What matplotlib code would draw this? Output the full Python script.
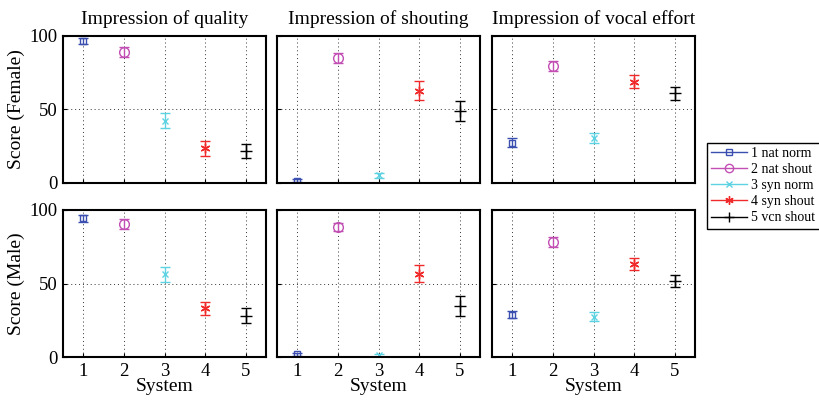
import numpy as np
import matplotlib.pyplot as plt
from matplotlib.lines import Line2D

plt.rcParams['font.family'] = ['Liberation Serif', 'DejaVu Serif']

systems = [1, 2, 3, 4, 5]
labels = ['1 nat norm', '2 nat shout', '3 syn norm', '4 syn shout', '5 vcn shout']
titles = ['Impression of quality', 'Impression of shouting', 'Impression of vocal effort']
row_labels = ['Score (Female)', 'Score (Male)']

# mean scores, [row][panel][system]
female_mean = [[96.5, 89, 42.5, 23.5, 21.5],
               [1.5, 85, 5.3, 62.8, 49],
               [27.5, 79.5, 30.5, 69, 61]]
female_err = [[2, 3.5, 5, 5, 4.8],
              [1, 3.5, 1.8, 6.5, 7],
              [2.8, 3.5, 3.2, 4.5, 4.3]]
male_mean = [[94.3, 90.8, 56.2, 33, 28.2],
             [1.8, 88.2, 1.1, 56.8, 34.8],
             [28.9, 78.3, 27.3, 63.2, 51.6]]
male_err = [[2.5, 3.4, 5, 4.6, 5],
            [1, 2.8, 1, 6, 6.6],
            [2.6, 3.6, 3, 4, 4]]

colors = ['#3b4fb0', '#c24fb4', '#5cd2e2', '#f02a2a', '#000000']
markers = ['s', 'o', 'x', (6, 2, 0), '+']
msizes = [5, 7, 5, 7, 8]

fig = plt.figure(figsize=(8.19, 4.04), dpi=100)
W, H = 819, 404
lefts = [63, 277, 492]
tops = [36, 210]
aw, ah = 203, 147

means = [female_mean, male_mean]
errs = [female_err, male_err]

for r in range(2):
    for c in range(3):
        ax = fig.add_axes([lefts[c] / W, 1 - (tops[r] + ah) / H, aw / W, ah / H])
        for i, s in enumerate(systems):
            ax.errorbar(s, means[r][c][i], yerr=errs[r][c][i], color=colors[i],
                        marker=markers[i], ms=msizes[i], mfc='none', mew=1,
                        elinewidth=1, capsize=3.5, capthick=1, ls='none')
        ax.set_xlim(0.5, 5.5)
        ax.set_ylim(0, 100)
        ax.set_xticks(systems)
        ax.set_yticks([0, 50, 100])
        ax.grid(True, color='#333333', linestyle=(0, (1, 3)), linewidth=0.7)
        ax.tick_params(direction='in', length=3, labelsize=13.5, width=0.8, pad=4)
        for sp in ax.spines.values():
            sp.set_linewidth(1.5)
        if r == 0:
            ax.set_title(titles[c], fontsize=14, pad=9)
            ax.tick_params(labelbottom=False)
        else:
            ax.set_xlabel('System', fontsize=14, labelpad=-1)
        if c == 0:
            ax.set_ylabel(row_labels[r], fontsize=14, labelpad=3)
        else:
            ax.tick_params(labelleft=False)

handles = [Line2D([], [], color=colors[i], marker=markers[i], ms=msizes[i] - 1,
                  mfc='none', lw=1) for i in range(5)]
leg = fig.legend(handles, labels, loc='upper left', bbox_to_anchor=(707 / W, 1 - 143 / H),
                 fontsize=10, fancybox=False, edgecolor='black', framealpha=1,
                 handlelength=2.6, borderpad=0.3, labelspacing=0.22, handletextpad=0.3,
                 borderaxespad=0)
leg.get_frame().set_linewidth(1)

fig.savefig('out.png', dpi=100)
